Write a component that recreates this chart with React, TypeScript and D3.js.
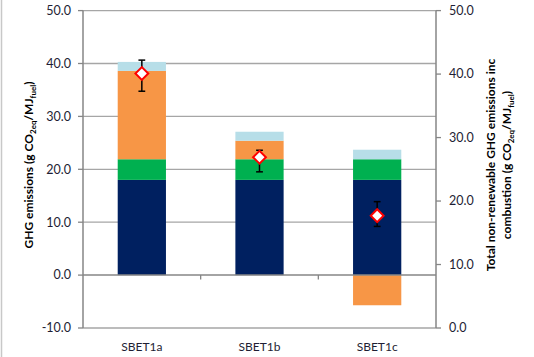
import React from "react";
import * as d3 from "d3";

// Pathways and their emission components (g CO2eq / MJ fuel)
const categories = ["SBET1a", "SBET1b", "SBET1c"];
const cultivation = [18.0, 18.0, 18.0];
const processing = [3.9, 3.9, 3.9];
const landUse = [16.7, 3.5, -5.7];
const transport = [1.7, 1.7, 1.8];

// Total non-renewable emissions including combustion (right axis)
const totalNonRenewable = [40.1, 26.9, 17.7];
const totalLow = [37.3, 24.6, 16.0];
const totalHigh = [42.2, 28.0, 19.9];

const leftTicks = [-10, 0, 10, 20, 30, 40, 50];
const rightTicks = [0, 10, 20, 30, 40, 50];

const W = 534;
const H = 357;
const plotLeft = 83;
const plotRight = 436;
const plotTop = 10.6;
const plotBottom = 328;

const COLORS = {
  cultivation: "#002060",
  processing: "#00B050",
  landUse: "#F79646",
  transport: "#B7DEE8",
};

const FONT = "Lato, 'Open Sans', sans-serif";
const TEXT = "#1e1e34";

export default function App() {
  const x = d3.scaleBand<string>().domain(categories).range([plotLeft, plotRight]).padding(0);
  const yL = d3.scaleLinear().domain([-10, 50]).range([plotBottom, plotTop]);
  const yR = d3.scaleLinear().domain([0, 50]).range([plotBottom, plotTop]);
  const barW = x.step() * 0.41;

  const diamond = d3.symbol().type(d3.symbolSquare).size(82)();

  const segments = categories.map((c, i) => {
    const parts: { key: string; v: number; color: string }[] = [
      { key: "cultivation", v: cultivation[i], color: COLORS.cultivation },
      { key: "processing", v: processing[i], color: COLORS.processing },
      { key: "landUse", v: landUse[i], color: COLORS.landUse },
      { key: "transport", v: transport[i], color: COLORS.transport },
    ];
    let pos = 0;
    let neg = 0;
    return parts.map((p) => {
      let y0: number, y1: number;
      if (p.v >= 0) {
        y0 = pos;
        y1 = pos + p.v;
        pos = y1;
      } else {
        y0 = neg + p.v;
        y1 = neg;
        neg = y0;
      }
      return { ...p, cat: c, y0, y1 };
    });
  });

  const cx = (c: string) => (x(c) as number) + x.bandwidth() / 2;

  return (
    <svg
      width={W}
      height={H}
      style={{ position: "absolute", left: 0, top: 0, background: "#fff" }}
      fontFamily={FONT}
    >
      <rect x={0} y={0} width={W} height={H} fill="#fff" />
      <line x1={1.5} x2={1.5} y1={0} y2={H} stroke="#c8c8c8" strokeWidth={1.5} />

      {/* gridlines */}
      {leftTicks
        .filter((t) => t !== 0)
        .map((t) => (
          <line
            key={"g" + t}
            x1={plotLeft}
            x2={plotRight}
            y1={yL(t)}
            y2={yL(t)}
            stroke="#a6a6a6"
            strokeWidth={1.3}
          />
        ))}

      {/* stacked bars */}
      {segments.flat().map((s) => (
        <rect
          key={s.cat + s.key}
          x={cx(s.cat) - barW / 2}
          width={barW}
          y={yL(s.y1)}
          height={yL(s.y0) - yL(s.y1)}
          fill={s.color}
        />
      ))}

      {/* zero line with category separators */}
      <line x1={plotLeft} x2={plotRight} y1={yL(0)} y2={yL(0)} stroke="#868686" strokeWidth={1.5} />
      {categories.slice(1).map((c) => (
        <line
          key={"sep" + c}
          x1={x(c) as number}
          x2={x(c) as number}
          y1={yL(0)}
          y2={yL(0) + 4.5}
          stroke="#868686"
          strokeWidth={1.3}
        />
      ))}

      {/* left axis */}
      <line x1={plotLeft} x2={plotLeft} y1={plotTop} y2={plotBottom} stroke="#868686" strokeWidth={1.5} />
      {leftTicks.map((t) => (
        <g key={"lt" + t}>
          <line x1={plotLeft - 5} x2={plotLeft} y1={yL(t)} y2={yL(t)} stroke="#868686" strokeWidth={1.3} />
          <text
            x={71}
            y={yL(t)}
            dy="0.35em"
            textAnchor="end"
            fontSize={12.5}
            fill={TEXT}
          >
            {t.toFixed(1)}
          </text>
        </g>
      ))}

      {/* right axis */}
      <line x1={plotRight} x2={plotRight} y1={plotTop} y2={plotBottom} stroke="#868686" strokeWidth={1.5} />
      {rightTicks.map((t) => (
        <g key={"rt" + t}>
          <line x1={plotRight} x2={plotRight + 5} y1={yR(t)} y2={yR(t)} stroke="#868686" strokeWidth={1.3} />
          <text x={449} y={yR(t)} dy="0.35em" textAnchor="start" fontSize={12.5} fill={TEXT}>
            {t.toFixed(1)}
          </text>
        </g>
      ))}

      {/* category labels */}
      {categories.map((c) => (
        <text key={"cl" + c} x={cx(c)} y={347} dy="0.35em" textAnchor="middle" fontSize={12} fill={TEXT}>
          {c}
        </text>
      ))}

      {/* totals with uncertainty range */}
      {categories.map((c, i) => {
        const px = cx(c);
        return (
          <g key={"m" + c}>
            <line x1={px} x2={px} y1={yR(totalHigh[i])} y2={yR(totalLow[i])} stroke="#000" strokeWidth={1.5} />
            <line x1={px - 3.4} x2={px + 3.4} y1={yR(totalHigh[i])} y2={yR(totalHigh[i])} stroke="#000" strokeWidth={1.5} />
            <line x1={px - 3.4} x2={px + 3.4} y1={yR(totalLow[i])} y2={yR(totalLow[i])} stroke="#000" strokeWidth={1.5} />
            <path
              d={diamond as string}
              transform={`translate(${px},${yR(totalNonRenewable[i])}) rotate(45)`}
              fill="#fff"
              stroke="#ff0000"
              strokeWidth={2}
            />
          </g>
        );
      })}

      {/* left axis title */}
      <text
        transform={`translate(29,165) rotate(-90)`}
        textAnchor="middle"
        dy="0.35em"
        fontSize={12}
        fontWeight="bold"
        fill="#000"
      >
        GHG emissions (g CO
        <tspan fontSize={8} dy="3">2eq</tspan>
        <tspan dy="-3">/MJ</tspan>
        <tspan fontSize={8} dy="3">fuel</tspan>
        <tspan dy="-3">)</tspan>
      </text>

      {/* right axis title */}
      <text
        transform={`translate(491,165) rotate(-90)`}
        textAnchor="middle"
        dy="0.35em"
        fontSize={12}
        fontWeight="bold"
        fill="#000"
      >
        Total non-renewable GHG emissions inc
      </text>
      <text
        transform={`translate(507,165) rotate(-90)`}
        textAnchor="middle"
        dy="0.35em"
        fontSize={12}
        fontWeight="bold"
        fill="#000"
      >
        combustion (g CO
        <tspan fontSize={8} dy="3">2eq</tspan>
        <tspan dy="-3">/MJ</tspan>
        <tspan fontSize={8} dy="3">fuel</tspan>
        <tspan dy="-3">)</tspan>
      </text>
    </svg>
  );
}
